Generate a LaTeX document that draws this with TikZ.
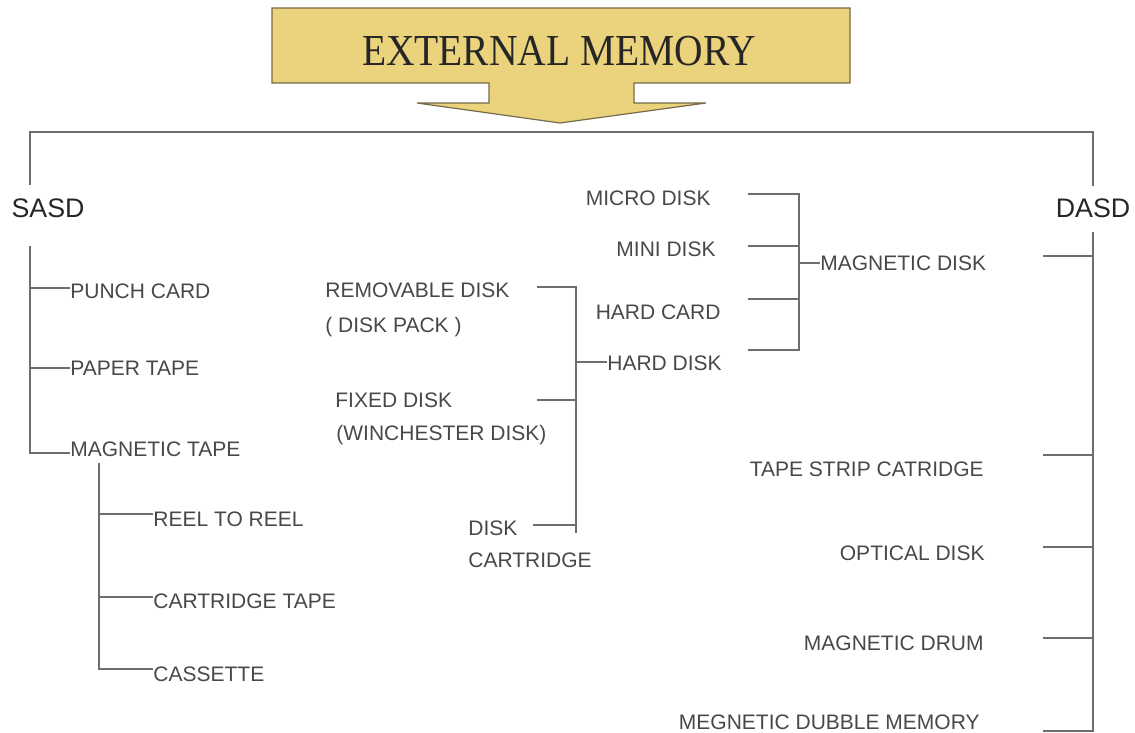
\documentclass[tikz,border=0pt]{standalone}
\usepackage{fontspec}
\setmainfont{Liberation Sans}
\newfontfamily\titlefont{Liberation Serif}
\definecolor{gold}{RGB}{234,211,124}
\definecolor{goldedge}{RGB}{120,106,76}
\definecolor{linegray}{RGB}{110,110,110}
\definecolor{txtgray}{RGB}{72,72,72}
\begin{document}
\begin{tikzpicture}[x=0.5pt,y=-0.5pt,
  conn/.style={draw=linegray, line width=1pt},
  lbl/.style={font=\fontsize{10.5}{12}\selectfont, text=txtgray, inner sep=0pt,
              text height=0.716em, text depth=0pt, anchor=west},
  lblr/.style={lbl, anchor=east},
  big/.style={font=\fontsize{13.4}{15}\selectfont, text=black!85, inner sep=0pt},
  titlebox/.style={fill=gold, draw=goldedge, line width=0.6pt}]
\useasboundingbox (0,0) rectangle (1135,733);
% title banner with arrow
\path[titlebox] (272,8) -- (850,8) -- (850,83) -- (634,83) -- (634,103) -- (706,103)
  -- (560,123) -- (417,103) -- (489,103) -- (489,83) -- (272,83) -- cycle;
\node[inner sep=0pt, text=black!85] (title) at (559,51)
  {\scalebox{1}[1.12]{\titlefont\fontsize{19.75}{22}\selectfont EXTERNAL MEMORY}};
% main nodes
\node[big] (sasd) at (48,208) {SASD};
\node[big] (dasd) at (1093,208) {DASD};
% SASD children
\node[lbl] (punch) at (70,291) {PUNCH CARD};
\node[lbl] (paper) at (70,368) {PAPER TAPE};
\node[lbl] (magtape) at (70,449) {MAGNETIC TAPE};
\node[lbl] (reel) at (153,519) {REEL TO REEL};
\node[lbl] (carttape) at (153,601) {CARTRIDGE TAPE};
\node[lbl] (cassette) at (153,674) {CASSETTE};
% hard disk group
\node[lbl] (removable) at (325,290) {REMOVABLE DISK};
\node[lbl] (diskpack) at (325,325) {( DISK PACK )};
\node[lbl] (fixed) at (335,400) {FIXED DISK};
\node[lbl] (winch) at (336,433) {(WINCHESTER DISK)};
\node[lbl] (disk) at (468,528) {DISK};
\node[lbl] (cart) at (468,560) {CARTRIDGE};
\node[lbl] (harddisk) at (607,363) {HARD DISK};
% magnetic disk group
\node[lblr] (micro) at (711,198) {MICRO DISK};
\node[lblr] (mini) at (716,249) {MINI DISK};
\node[lblr] (hardcard) at (721,312) {HARD CARD};
\node[lbl] (magdisk) at (820,263) {MAGNETIC DISK};
% DASD children
\node[lblr] (tapestrip) at (984,469) {TAPE STRIP CATRIDGE};
\node[lblr] (optical) at (985,553) {OPTICAL DISK};
\node[lblr] (drum) at (984,643) {MAGNETIC DRUM};
\node[lblr] (bubble) at (980,722) {MEGNETIC DUBBLE MEMORY};
% coordinates
\coordinate (tl) at (30,132); \coordinate (tr) at (1093,132);
\coordinate (sa) at (30,185); \coordinate (sb) at (30,246);
\coordinate (s1) at (30,288); \coordinate (s2) at (30,368); \coordinate (s3) at (30,453);
\coordinate (m0) at (99,463); \coordinate (m1) at (99,514);
\coordinate (m2) at (99,597); \coordinate (m3) at (99,669);
\coordinate (r0) at (537,287); \coordinate (f0) at (537,400); \coordinate (d0) at (533,525);
\coordinate (h0) at (576,287); \coordinate (h1) at (576,400); \coordinate (h2) at (576,525);
\coordinate (h3) at (576,533); \coordinate (hm) at (576,362);
\coordinate (k1) at (748,194); \coordinate (k1b) at (799,194);
\coordinate (k2) at (748,246); \coordinate (k2b) at (799,246);
\coordinate (k3) at (748,299); \coordinate (k3b) at (799,299);
\coordinate (k4) at (748,350); \coordinate (k4b) at (799,350);
\coordinate (km) at (799,263);
\coordinate (da) at (1093,186); \coordinate (db) at (1093,232);
\coordinate (e1) at (1043,256); \coordinate (e1b) at (1093,256);
\coordinate (e2) at (1043,455); \coordinate (e2b) at (1093,455);
\coordinate (e3) at (1043,547); \coordinate (e3b) at (1093,547);
\coordinate (e4) at (1043,638); \coordinate (e4b) at (1093,638);
\coordinate (e5) at (1043,731); \coordinate (e5b) at (1093,731);
% connectors
\draw[conn] (sa) -- (tl) -- (tr) -- (da);
\draw[conn] (sb) -- (s3) -- (s3 -| magtape.west);
\draw[conn] (s1) -- (s1 -| punch.west);
\draw[conn] (s2) -- (s2 -| paper.west);
\draw[conn] (m0) -- (m3) -- (m3 -| cassette.west);
\draw[conn] (m1) -- (m1 -| reel.west);
\draw[conn] (m2) -- (m2 -| carttape.west);
\draw[conn] (r0) -- (h0) -- (h3);
\draw[conn] (f0) -- (h1);
\draw[conn] (d0) -- (h2);
\draw[conn] (hm) -- (hm -| harddisk.west);
\draw[conn] (k1) -- (k1b) -- (k4b) -- (k4);
\draw[conn] (k2) -- (k2b);
\draw[conn] (k3) -- (k3b);
\draw[conn] (km) -- (km -| magdisk.west);
\draw[conn] (db) -- (e5b) -- (e5);
\draw[conn] (e1) -- (e1b);
\draw[conn] (e2) -- (e2b);
\draw[conn] (e3) -- (e3b);
\draw[conn] (e4) -- (e4b);
\end{tikzpicture}
\end{document}
